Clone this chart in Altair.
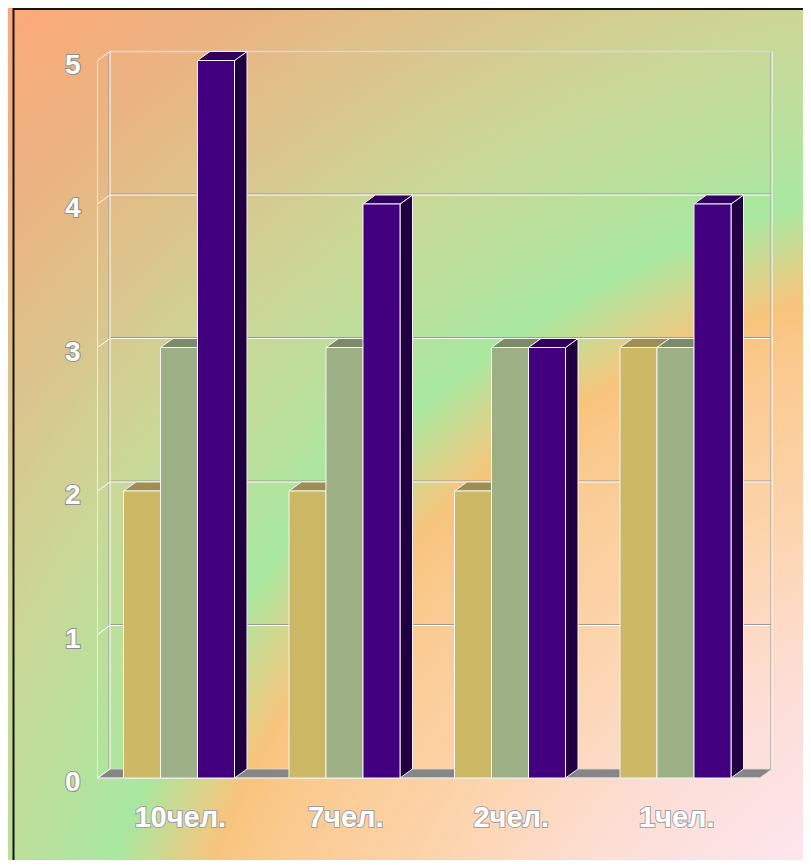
import altair as alt
import pandas as pd

# ---------------- data ----------------
CATEGORIES = ["10чел.", "7чел.", "2чел.", "1чел."]
SERIES = ["Ряд 1", "Ряд 2", "Ряд 3"]
SERIES_1 = [2, 2, 2, 3]
SERIES_2 = [3, 3, 3, 3]
SERIES_3 = [5, 4, 3, 4]
Y_TICKS = [0, 1, 2, 3, 4, 5]

# ---------------- style / layout ----------------
W, H = 795, 852
PX_PER_CAT = 165.5
PX_PER_UNIT = 143.5
X0_PX = 89.5
Y0_PX = 770
GAP = 26 / PX_PER_CAT
BAR_W = 37 / PX_PER_CAT
DX = 12.5 / PX_PER_CAT
DY = 9 / PX_PER_UNIT
N = len(CATEGORIES)
YMAX = max(Y_TICKS)

FRONT = ["#CDB866", "#9CAF85", "#42007F"]
TOP = ["#A08E50", "#7B8A69", "#2F005E"]
SIDE = ["#857440", "#667356", "#210042"]
EDGE = "#f4f4f4"
GRID = "#ffffff"
SHADOW = "#9a9a9a"
FONT = "Liberation Sans"

XS = alt.Scale(domain=[-X0_PX / PX_PER_CAT, (W - X0_PX) / PX_PER_CAT], nice=False, zero=False)
YS = alt.Scale(domain=[-(H - Y0_PX) / PX_PER_UNIT, Y0_PX / PX_PER_UNIT], nice=False, zero=False)
XAX = alt.Axis(orient="bottom", offset=-(H - Y0_PX), values=list(range(N + 1)), tickSize=11,
               tickColor="#ececec", tickWidth=1, labels=False, domain=False, grid=False, title=None)
YAX = alt.Axis(orient="left", offset=-X0_PX, values=Y_TICKS, tickSize=10,
               tickColor="#ececec", tickWidth=1, labels=False, domain=False, grid=False, title=None)


def X(f):
    return alt.X(f, type="quantitative", scale=XS, axis=XAX)


def Y(f):
    return alt.Y(f, type="quantitative", scale=YS, axis=YAX, stack=None)


# ---------------- tables built from the arrays ----------------
vals = [SERIES_1, SERIES_2, SERIES_3]
bar_rows = []
for ci, cat in enumerate(CATEGORIES):
    for si, name in enumerate(SERIES):
        left = ci + GAP + si * BAR_W
        bar_rows.append(dict(cat=cat, series=name, bid=f"{ci}{si}", v=vals[si][ci],
                             left=left, right=left + BAR_W))
bars = pd.DataFrame(bar_rows)

side_rows, top_rows = [], []
for r in bar_rows:
    for t in (0, 1):
        side_rows.append(dict(series=r["series"], bid=r["bid"], x=r["right"] + t * DX,
                              y=r["v"] + t * DY, y2=t * DY))
        top_rows.append(dict(series=r["series"], bid=r["bid"], y=r["v"] + t * DY,
                             x=r["left"] + t * DX, x2=r["right"] + t * DX))
sides = pd.DataFrame(side_rows)
tops = pd.DataFrame(top_rows)

floor = pd.DataFrame([dict(y=t * DY, x=t * DX, x2=N + t * DX, g="f") for t in (0, 1)])
levels = pd.DataFrame({"v": Y_TICKS, "lab": [str(v) for v in Y_TICKS]})
grid_levels = pd.DataFrame({"v": Y_TICKS[1:-1]})
cats = pd.DataFrame({"cat": CATEGORIES, "ci": list(range(N))})
walls = pd.DataFrame({"x": [DX, N + DX]})
one = pd.DataFrame({"a": [0]})

# ---------------- background ----------------
stops = [
    (0.25, "#FDE6F0"), (0.356, "#FCDED6"), (0.45, "#FCD4AC"), (0.5375, "#FACA90"),
    (0.575, "#F8C47C"), (0.60, "#D8D48C"), (0.634, "#A8E8A0"), (0.69, "#BCDF9C"),
    (0.75, "#CCD696"), (0.80, "#D6C990"), (0.844, "#E0BF88"), (0.894, "#EAB482"),
    (1.0, "#FFA878"),
]
SQ = H
CX, CY, R = 1068 / SQ, 1172 / SQ, 1600 / SQ
bg_fill = alt.RadialGradient(
    gradient="radial",
    stops=[alt.GradientStop(offset=o, color=c) for o, c in stops],
    x1=CX, y1=CY, r1=0, x2=CX, y2=CY, r2=R,
)
background = alt.Chart(one).mark_rect(fill=bg_fill, strokeWidth=0).encode(
    x=alt.value(0), x2=alt.value(SQ), y=alt.value(0), y2=alt.value(SQ))

border_v = alt.Chart(one).mark_rule(color="#151515", strokeWidth=2).encode(
    x=alt.value(5.5), y=alt.value(0), y2=alt.value(H))
border_h = alt.Chart(one).mark_rule(color="#151515", strokeWidth=2).encode(
    x=alt.value(5.5), x2=alt.value(W), y=alt.value(1))


# ---------------- 3D frame ----------------
def hline(df, expr_y, x1, x2, color, width, dy=0):
    return alt.Chart(df).transform_calculate(
        yy=expr_y, xa=f"{x1}", xb=f"{x2}"
    ).mark_rule(color=color, strokeWidth=width, yOffset=dy).encode(
        x=X("xa:Q"), x2=alt.X2("xb:Q"), y=Y("yy:Q"))


floor_l = alt.Chart(floor).mark_area(orient="horizontal", color="#868686", stroke="#dcdcdc",
                                     strokeWidth=0.8).encode(
    y=Y("y"), x=X("x"), x2=alt.X2("x2"), detail="g:N")

grid_sh = hline(grid_levels, f"datum.v + {DY}", DX, N + DX, SHADOW, 1, -1)
grid_w = hline(grid_levels, f"datum.v + {DY}", DX, N + DX, GRID, 1)
top_edge = hline(one, f"{YMAX + DY}", DX, N + DX, "#d8d8d8", 1.5)

walls_sh = alt.Chart(walls).transform_calculate(
    y1=f"{DY}", y2=f"{YMAX + DY}"
).mark_rule(color=SHADOW, strokeWidth=1, xOffset=-1).encode(
    x=X("x:Q"), y=Y("y1:Q"), y2=alt.Y2("y2:Q"))
walls_w = alt.Chart(walls).transform_calculate(
    y1=f"{DY}", y2=f"{YMAX + DY}"
).mark_rule(color=GRID, strokeWidth=1).encode(x=X("x:Q"), y=Y("y1:Q"), y2=alt.Y2("y2:Q"))

diagonals = alt.Chart(levels).transform_calculate(
    x1="0", x2=f"{DX}", yy2=f"datum.v + {DY}"
).mark_rule(color=GRID, strokeWidth=1).encode(
    x=X("x1:Q"), x2=alt.X2("x2:Q"), y=Y("v:Q"), y2=alt.Y2("yy2:Q"))

front_v = alt.Chart(one).transform_calculate(
    x1="0", y1="0", y2=f"{YMAX}"
).mark_rule(color="#ececec", strokeWidth=1).encode(x=X("x1:Q"), y=Y("y1:Q"), y2=alt.Y2("y2:Q"))

front_h = hline(one, "0", 0, N, "#ececec", 1)

# ---------------- bars ----------------
side_l = alt.Chart(sides).mark_area(orient="vertical", stroke=EDGE, strokeWidth=1,
                                    fillOpacity=1).encode(
    x=X("x"), y=Y("y"), y2=alt.Y2("y2"), detail="bid:N",
    fill=alt.Fill("series:N", scale=alt.Scale(domain=SERIES, range=SIDE), legend=None))

top_l = alt.Chart(tops).mark_area(orient="horizontal", stroke=EDGE, strokeWidth=1,
                                  fillOpacity=1).encode(
    y=Y("y"), x=X("x"), x2=alt.X2("x2"), detail="bid:N",
    fill=alt.Fill("series:N", scale=alt.Scale(domain=SERIES, range=TOP), legend=None))

front_l = alt.Chart(bars).transform_calculate(base="0").mark_rect(
    stroke=EDGE, strokeWidth=1).encode(
    x=X("left"), x2=alt.X2("right"), y=Y("v"), y2=alt.Y2("base:Q"),
    fill=alt.Fill("series:N", scale=alt.Scale(domain=SERIES, range=FRONT), legend=None))

# ---------------- labels ----------------
ylab_style = dict(align="right", baseline="alphabetic", dy=13, font=FONT, fontWeight="bold",
                  fontSize=28)
ylab_o = alt.Chart(levels).mark_text(fill="#8e8e8e", stroke="#8e8e8e", strokeWidth=2,
                                     **ylab_style).encode(
    x=alt.value(72.5), y=Y("v"), text="lab:N")
ylab_w = alt.Chart(levels).mark_text(fill="#ffffff", **ylab_style).encode(
    x=alt.value(72.5), y=Y("v"), text="lab:N")

xlab_style = dict(align="center", baseline="alphabetic", font=FONT, fontWeight="bold",
                  fontSize=29)
xlab_o = alt.Chart(cats).transform_calculate(xc="datum.ci + 0.5").mark_text(
    fill="#a0a0a0", stroke="#a0a0a0", strokeWidth=2, **xlab_style).encode(
    x=X("xc:Q"), y=alt.value(819), text="cat:N")
xlab_w = alt.Chart(cats).transform_calculate(xc="datum.ci + 0.5").mark_text(
    fill="#ffffff", **xlab_style).encode(
    x=X("xc:Q"), y=alt.value(819), text="cat:N")

chart = alt.layer(
    background, border_v, border_h,
    floor_l, grid_sh, grid_w, top_edge, walls_sh, walls_w, diagonals, front_v, front_h,
    side_l, top_l, front_l,
    ylab_o, ylab_w, xlab_o, xlab_w,
).resolve_scale(fill="independent").properties(
    width=W, height=H, padding=0, autosize=alt.AutoSizeParams(type="none")
).configure_view(stroke=None).configure(background="#ffffff")

chart.save("out.html", embed_options={"renderer": "svg", "actions": False})
